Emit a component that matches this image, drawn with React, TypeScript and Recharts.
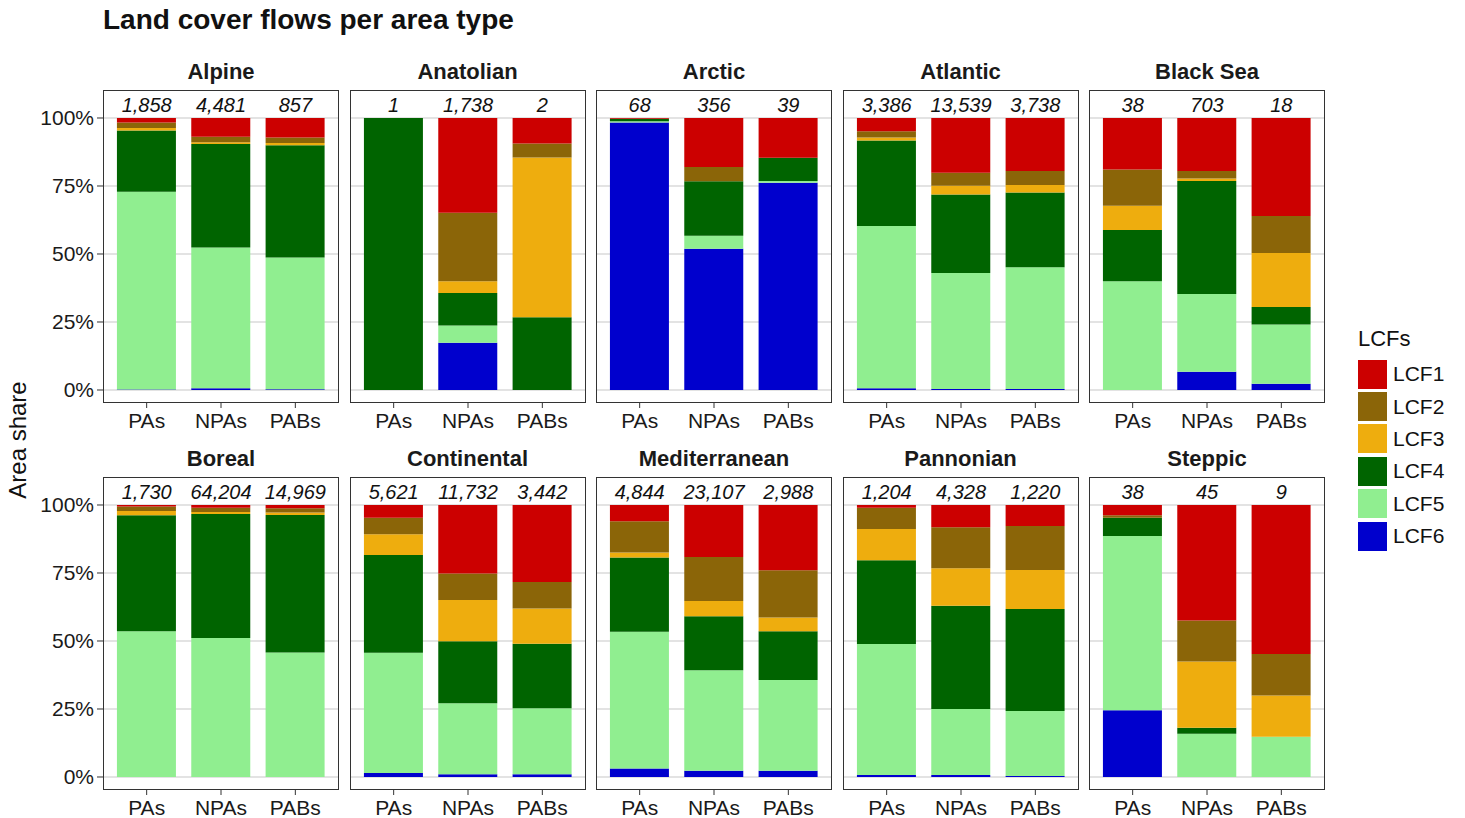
import { Bar, BarChart, CartesianGrid, XAxis, YAxis } from "recharts";

// regions (facets) and area types (x categories)
const REGIONS = [
  "Alpine", "Anatolian", "Arctic", "Atlantic", "Black Sea",
  "Boreal", "Continental", "Mediterranean", "Pannonian", "Steppic",
];
const AREA_TYPES = ["PAs", "NPAs", "PABs"];

// number of flows per region / area type (printed on top)
const TOTALS = [
  [1858, 4481, 857], [1, 1738, 2], [68, 356, 39], [3386, 13539, 3738], [38, 703, 18],
  [1730, 64204, 14969], [5621, 11732, 3442], [4844, 23107, 2988], [1204, 4328, 1220], [38, 45, 9],
];

// area share (%) per LCF, one row per region: [PAs, NPAs, PABs]
const LCF1 = [
  [1.7, 6.9, 7.2], [0, 34.8, 9.4], [0.3, 18.0, 14.6], [4.9, 20.1, 19.5], [18.9, 19.5, 36.0],
  [0.6, 1.0, 1.2], [4.7, 25.2, 28.3], [6.0, 19.1, 24.0], [1.0, 8.2, 7.7], [3.8, 42.5, 54.8],
];
const LCF2 = [
  [2.0, 2.0, 2.0], [0, 25.2, 5.1], [0, 5.3, 0], [2.3, 4.8, 5.1], [13.4, 2.7, 13.6],
  [1.6, 1.6, 1.6], [6.1, 9.7, 9.8], [11.5, 16.2, 17.4], [7.8, 15.1, 16.2], [0.9, 15.0, 15.2],
];
const LCF3 = [
  [0.9, 0.7, 0.8], [0, 4.3, 58.8], [0, 0, 0], [1.1, 3.2, 2.8], [8.9, 1.0, 19.9],
  [1.6, 0.7, 0.9], [7.6, 15.2, 12.9], [1.8, 5.6, 5.0], [11.5, 13.7, 14.3], [0, 24.4, 15.2],
];
const LCF4 = [
  [22.5, 38.0, 41.3], [100, 12.0, 26.7], [0.9, 20.0, 8.6], [31.4, 28.9, 27.5], [18.8, 41.5, 6.4],
  [42.6, 45.6, 50.5], [35.9, 22.8, 23.7], [27.3, 19.9, 17.9], [30.8, 38.0, 37.5], [6.7, 2.2, 0],
];
const LCF5 = [
  [72.7, 51.8, 48.4], [0, 6.3, 0], [0.5, 4.8, 0.6], [59.7, 42.6, 44.7], [40.0, 28.6, 21.8],
  [53.6, 51.1, 45.8], [44.2, 26.1, 24.3], [50.3, 36.9, 33.4], [48.2, 24.3, 23.9], [64.1, 15.9, 14.8],
];
const LCF6 = [
  [0.2, 0.6, 0.3], [0, 17.4, 0], [98.3, 51.9, 76.2], [0.6, 0.4, 0.4], [0, 6.7, 2.3],
  [0, 0, 0], [1.5, 1.0, 1.0], [3.1, 2.3, 2.3], [0.7, 0.7, 0.4], [24.5, 0, 0],
];

const LCF_KEYS = ["LCF1", "LCF2", "LCF3", "LCF4", "LCF5", "LCF6"];
const LCF_VALUES = [LCF1, LCF2, LCF3, LCF4, LCF5, LCF6];
const LCF_COLORS = ["#cc0000", "#8b6508", "#eead0e", "#006400", "#90ee90", "#0000cd"];
const Y_TICKS = [0, 25, 50, 75, 100];

const FONT = '"Liberation Sans", Arial, Helvetica, sans-serif';
const BOX_W = 236;
const BOX_H = 313;
const Y_AXIS_W = 100;
const X_AXIS_H = 40;
const colX = (c: number) => 103 + c * 246.5;
const rowY = (r: number) => 90 + r * 387;

function buildRows(i: number) {
  return AREA_TYPES.map((t, j) => {
    const row: Record<string, string | number> = { type: t, total: TOTALS[i][j] };
    LCF_KEYS.forEach((k, n) => {
      row[k] = LCF_VALUES[n][i][j];
    });
    return row;
  });
}

function Panel({ i }: { i: number }) {
  const col = i % 5;
  const r = Math.floor(i / 5);
  const withY = col === 0;
  const left = colX(col) - (withY ? Y_AXIS_W : 0);
  const top = rowY(r);
  const rows = buildRows(i);

  return (
    <>
      <div
        style={{
          position: "absolute",
          left: colX(col),
          top: top - 31,
          width: BOX_W,
          textAlign: "center",
          fontWeight: "bold",
          fontSize: 22,
          color: "#1a1a1a",
        }}
      >
        {REGIONS[i]}
      </div>
      <div style={{ position: "absolute", left, top: top - 1 }}>
        <BarChart
          width={BOX_W + (withY ? Y_AXIS_W : 0)}
          height={BOX_H + X_AXIS_H + 1}
          data={rows}
          margin={{ top: 0, right: 0, bottom: 0, left: 0 }}
          barCategoryGap="10%"
        >
          <CartesianGrid vertical={false} horizontalValues={Y_TICKS} stroke="#c8c8c8" strokeWidth={1.2} />
          <XAxis
            xAxisId="b"
            dataKey="type"
            orientation="bottom"
            height={X_AXIS_H}
            padding={{ left: 6.5, right: 6.5 }}
            axisLine={false}
            tickLine={{ stroke: "#333" }}
            tickSize={5}
            tickMargin={5}
            tick={{ fill: "#1a1a1a", fontSize: 21, fontFamily: FONT }}
            interval={0}
          />
          <XAxis
            xAxisId="t"
            dataKey="type"
            orientation="top"
            height={1}
            padding={{ left: 6.5, right: 6.5 }}
            axisLine={false}
            tickLine={false}
            interval={0}
            tick={(p: any) => {
              const idx = AREA_TYPES.indexOf(p.payload?.value);
              return (
                <text
                  x={p.x}
                  y={23}
                  textAnchor="middle"
                  fontStyle="italic"
                  fontSize={20}
                  fontFamily={FONT}
                  fill="#111"
                >
                  {idx >= 0 ? TOTALS[i][idx].toLocaleString("en-US") : ""}
                </text>
              );
            }}
          />
          <YAxis
            type="number"
            domain={[-4.78, 110.29]}
            allowDataOverflow
            ticks={Y_TICKS}
            hide={!withY}
            width={Y_AXIS_W}
            axisLine={false}
            tickLine={{ stroke: "#333" }}
            tickSize={6}
            tickMargin={3}
            tickFormatter={(v: number) => `${v}%`}
            tick={{ fill: "#1a1a1a", fontSize: 21, fontFamily: FONT }}
          />
          {[5, 4, 3, 2, 1, 0].map((n) => (
            <Bar
              key={LCF_KEYS[n]}
              dataKey={LCF_KEYS[n]}
              xAxisId="b"
              stackId="s"
              fill={LCF_COLORS[n]}
              isAnimationActive={false}
            />
          ))}
        </BarChart>
      </div>
      <div
        style={{
          position: "absolute",
          left: colX(col),
          top,
          width: BOX_W,
          height: BOX_H,
          border: "1px solid #333",
          boxSizing: "border-box",
          pointerEvents: "none",
        }}
      />
    </>
  );
}

export default function App() {
  return (
    <div
      style={{
        position: "relative",
        width: 1465,
        height: 818,
        background: "#fff",
        fontFamily: FONT,
        overflow: "hidden",
      }}
    >
      <style>{"body{margin:0}"}</style>
      <div
        style={{
          position: "absolute",
          left: 103,
          top: 4,
          fontSize: 28,
          fontWeight: "bold",
          color: "#111",
        }}
      >
        Land cover flows per area type
      </div>
      <div
        style={{
          position: "absolute",
          left: 18,
          top: 440,
          transform: "translate(-50%, -50%) rotate(-90deg)",
          fontSize: 24,
          color: "#111",
          whiteSpace: "nowrap",
        }}
      >
        Area share
      </div>
      {REGIONS.map((_, i) => (
        <Panel key={i} i={i} />
      ))}
      <div style={{ position: "absolute", left: 1358, top: 326 }}>
        <div style={{ fontSize: 22, color: "#111", marginBottom: 6 }}>LCFs</div>
        {LCF_KEYS.map((k, n) => (
          <div key={k} style={{ display: "flex", alignItems: "center", height: 32.4 }}>
            <div style={{ width: 29, height: 29, background: LCF_COLORS[n] }} />
            <span style={{ marginLeft: 6, fontSize: 21, color: "#111" }}>{k}</span>
          </div>
        ))}
      </div>
    </div>
  );
}
